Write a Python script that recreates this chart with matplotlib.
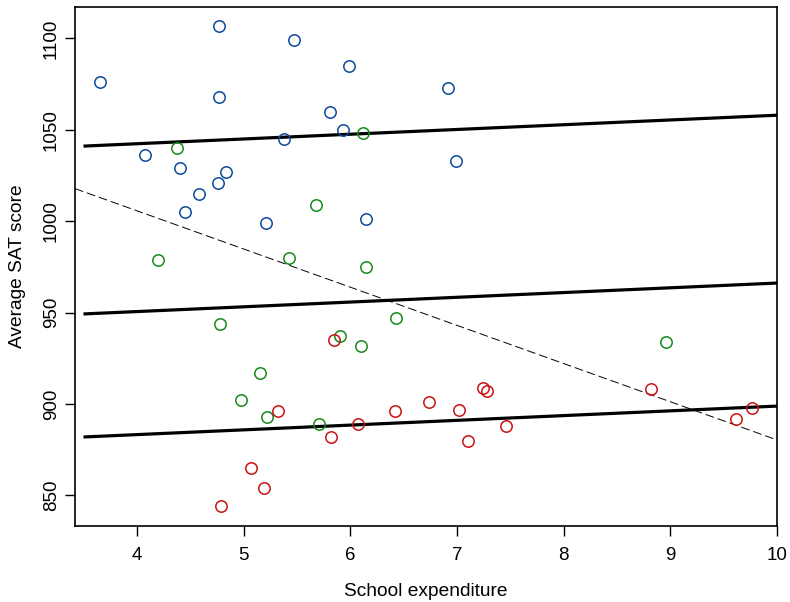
import numpy as np
import matplotlib
matplotlib.use('Agg')
import matplotlib.pyplot as plt

plt.rcParams['font.family'] = ['Liberation Sans', 'DejaVu Sans']

# states by share taking the SAT: low (blue), medium (green), high (red)
low_expend = [3.65, 4.77, 5.47, 5.99, 4.77, 5.81, 5.93, 5.38, 6.92, 6.99,
              4.08, 4.40, 4.84, 4.76, 4.58, 4.45, 5.21, 6.15]
low_sat = [1076, 1107, 1099, 1085, 1068, 1060, 1050, 1045, 1073, 1033,
           1036, 1029, 1027, 1021, 1015, 1005, 999, 1001]

mid_expend = [4.38, 6.12, 5.68, 4.20, 5.43, 6.15, 4.78, 5.90, 6.10, 6.43,
              5.15, 4.98, 5.22, 5.71, 8.96]
mid_sat = [1040, 1048, 1009, 979, 980, 975, 944, 937, 932, 947,
           917, 902, 893, 889, 934]

high_expend = [5.85, 5.32, 6.07, 5.82, 6.42, 5.07, 5.19, 4.79, 6.74, 7.02,
               7.24, 7.28, 7.10, 7.46, 8.82, 9.62, 9.77]
high_sat = [935, 896, 889, 882, 896, 865, 854, 844, 901, 897,
            909, 907, 880, 888, 908, 892, 898]

# fitted lines: parallel slopes per group, and the pooled fit (dashed)
group_slope = 2.6
group_intercepts = [1032.0, 940.2, 872.9]
pooled_intercept = 1089.3
pooled_slope = -20.89

colors = ['#0c4a9a', '#16891a', '#cc1111']

fig = plt.figure(figsize=(7.9, 6.02), dpi=100)
ax = fig.add_axes([0.0949, 0.1262, 0.8886, 0.8622])

for xs, ys, c in zip([low_expend, mid_expend, high_expend],
                     [low_sat, mid_sat, high_sat], colors):
    ax.plot(xs, ys, 'o', ms=8.2, mfc='none', mec=c, mew=1.1, zorder=3)

xl = np.array([3.5, 10.0])
for b in group_intercepts:
    ax.plot(xl, b + group_slope * xl, color='black', lw=2.3, zorder=2,
            solid_capstyle='butt')

xd = np.array([3.42, 10.0])
ax.plot(xd, pooled_intercept + pooled_slope * xd, color='black', lw=0.7,
        dashes=(9, 4), zorder=2)

ax.set_xlim(3.42, 10.0)
ax.set_ylim(833.3, 1117.2)
ax.set_xticks([4, 5, 6, 7, 8, 9, 10])
ax.set_yticks([850, 900, 950, 1000, 1050, 1100])
ax.tick_params(labelsize=13.5, length=7, width=1)
ax.tick_params(axis='x', pad=8)
ax.tick_params(axis='y', pad=4)
for lab in ax.get_yticklabels():
    lab.set_rotation(90)
    lab.set_va('center')
for s in ax.spines.values():
    s.set_linewidth(1.2)

ax.set_xlabel('School expenditure', fontsize=13.8, labelpad=14)
ax.set_ylabel('Average SAT score', fontsize=13.8, labelpad=12)

fig.savefig('out.png', dpi=100)
